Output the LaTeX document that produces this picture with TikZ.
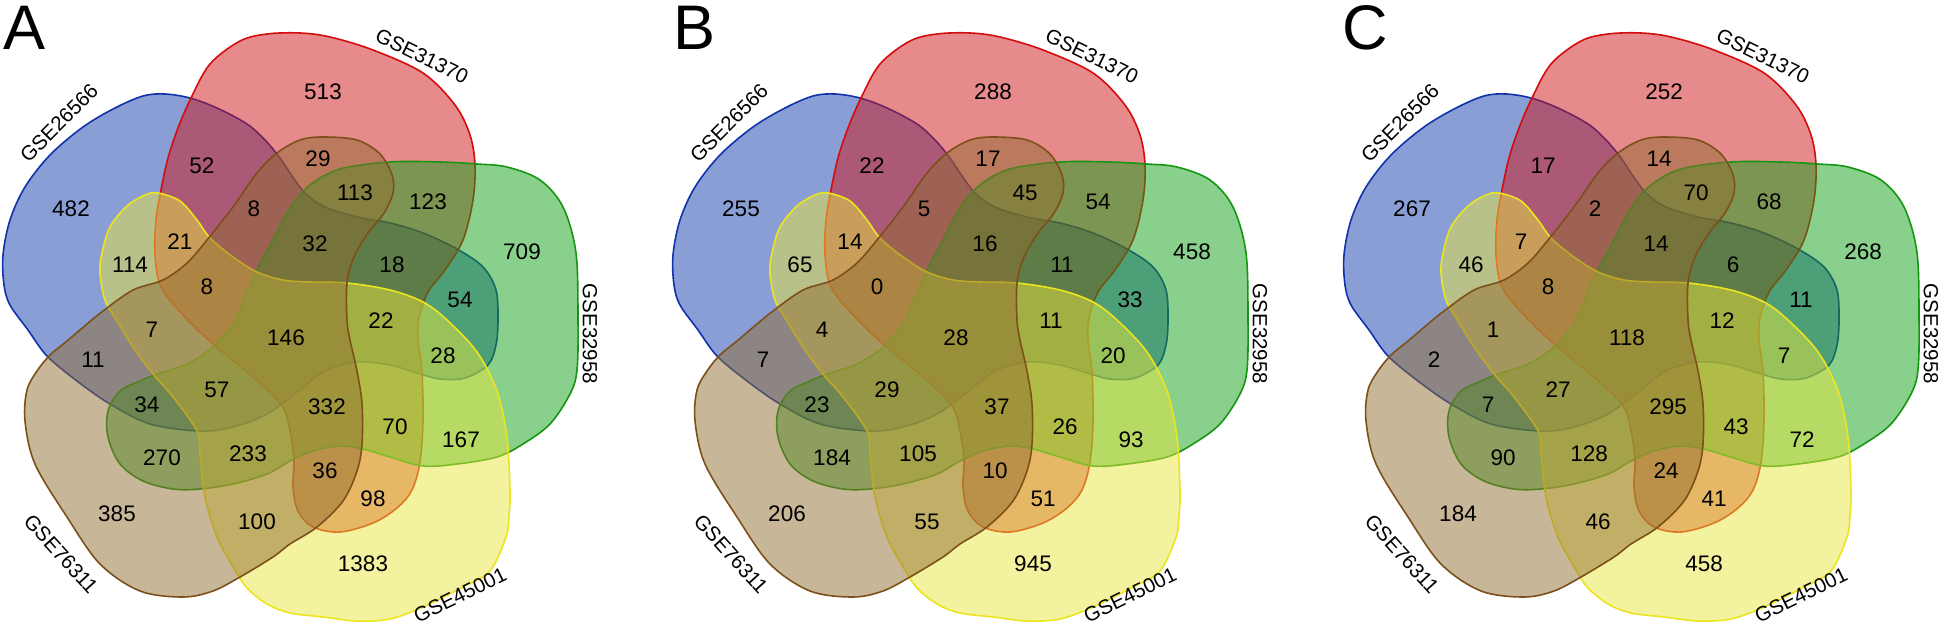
\documentclass[tikz,border=0pt]{standalone}
\usepackage{fontspec}
\setmainfont{Liberation Sans}
\usetikzlibrary{positioning}

\definecolor{vblue}{RGB}{21,61,173}
\definecolor{vred}{RGB}{205,21,25}
\definecolor{vgreen}{RGB}{19,161,25}
\definecolor{vyellow}{RGB}{231,229,63}
\definecolor{vbrown}{RGB}{145,109,49}
\definecolor{blueline}{RGB}{17,51,170}
\definecolor{redline}{RGB}{212,12,12}
\definecolor{greenline}{RGB}{22,150,18}
\definecolor{yellowline}{RGB}{236,228,30}
\definecolor{brownline}{RGB}{125,80,25}

\tikzset{
  vset/.style={line width=1.6pt,fill opacity=0.5},
  num/.style={font=\fontsize{22.5}{27}\selectfont,inner sep=0pt},
  setlabel/.style={font=\fontsize{20.5}{24}\selectfont,inner sep=0pt},
  paneltag/.style={font=\fontsize{63}{70}\selectfont,inner sep=0pt}
}

\newcommand{\blueshape}{plot[smooth cycle,tension=0.55] coordinates {(143,96) (165,94) (190,98) (217,108) (247,124) (265,140) (280,158) (292,176) (306,194) (325,207) (357,217) (390,223) (423,233) (457,249) (483,267) (496,290) (498,320) (496,345) (488,365) (465,378) (440,379) (417,373) (390,365) (357,362) (325,371) (300,390) (267,414) (233,427) (200,431) (150,424) (110,404) (77,381) (47,356) (28,330) (10,305) (4,285) (3,255) (10,220) (25,187) (50,155) (83,127) (115,108)}}
\newcommand{\redshape}{plot[smooth cycle,tension=0.55] coordinates {(191,98) (210,64) (240,41) (267,34) (300,33) (330,37) (373,50) (423,73) (455,105) (470,135) (475,165) (473,200) (463,240) (445,270) (428,292) (419,318) (418,340) (422,371) (423,421) (420,462) (412,490) (397,508) (373,523) (340,532) (313,527) (298,511) (293,487) (294,460) (290,431) (282,406) (253,377) (213,344) (183,315) (161,287) (155,255) (156,220) (161,190) (168,158) (178,128)}}
\newcommand{\greenshape}{plot[smooth cycle,tension=0.55] coordinates {(257,270) (273,240) (290,208) (310,185) (340,169) (390,162) (440,162) (477,164) (507,167) (540,180) (563,207) (576,253) (578,320) (577,370) (570,394) (550,424) (523,444) (497,457) (457,464) (423,466) (390,457) (363,449) (340,446) (313,451) (290,461) (267,474) (233,484) (200,489) (173,489) (143,481) (120,464) (108,437) (108,411) (120,391) (140,381) (157,374) (187,364) (213,347) (233,324) (243,302)}}
\newcommand{\yellowshape}{plot[smooth cycle,tension=0.55] coordinates {(158,193) (180,201) (197,220) (210,238) (233,257) (257,272) (283,280) (310,282) (347,283) (390,290) (423,302) (447,320) (477,352) (497,391) (507,437) (510,491) (509,515) (506,537) (490,571) (463,587) (423,607) (390,619) (357,621) (323,617) (290,613) (267,604) (247,588) (235,570) (217,537) (205,497) (200,454) (197,431) (173,397) (153,374) (133,347) (117,321) (105,300) (100,273) (102,253) (110,227) (127,206) (145,195)}}
\newcommand{\brownshape}{plot[smooth cycle,tension=0.55] coordinates {(300,140) (323,137) (357,140) (380,154) (392,175) (393,193) (384,213) (368,233) (354,257) (347,283) (347,320) (350,340) (357,371) (362,404) (362,444) (357,471) (343,501) (317,527) (290,544) (273,557) (240,577) (213,591) (183,597) (140,591) (100,564) (67,517) (35,464) (25,421) (27,390) (37,371) (50,355) (67,341) (87,324) (103,311) (133,290) (163,280) (187,263) (207,240) (233,207) (257,173) (277,153)}}
\newcommand{\regionpos}{71/209, 323/92, 522/252, 363/564, 117/514, 202/166, 318/159, 428/202, 460/300, 461/440, 373/499, 257/522, 162/458, 93/360, 130/265, 180/242, 254/209, 355/193, 392/265, 443/356, 395/427, 325/471, 248/454, 147/405, 152/330, 207/287, 315/244, 381/321, 327/407, 217/390, 286/338}

\begin{document}
\begin{tikzpicture}[x=1pt,y=-1pt]
  \useasboundingbox (0,0) rectangle (1943,624);
  \foreach \pan/\off/\vals in {
      A/0/{482,513,709,1383,385,52,29,123,54,167,98,100,270,11,114,21,8,113,18,28,70,36,233,34,7,8,32,22,332,57,146},
      B/670/{255,288,458,945,206,22,17,54,33,93,51,55,184,7,65,14,5,45,11,20,26,10,105,23,4,0,16,11,37,29,28},
      C/1341/{267,252,268,458,184,17,14,68,11,72,41,46,90,2,46,7,2,70,6,7,43,24,128,7,1,8,14,12,295,27,118}} {
    \begin{scope}[xshift=\off pt]
      \draw[vset,draw=blueline,fill=vblue] \blueshape;
      \draw[vset,draw=redline,fill=vred] \redshape;
      \draw[vset,draw=greenline,fill=vgreen] \greenshape;
      \draw[vset,draw=yellowline,fill=vyellow] \yellowshape;
      \draw[vset,draw=brownline,fill=vbrown] \brownshape;
      \foreach \x/\y [count=\i] in \regionpos {\coordinate (\pan\i) at (\x,\y);}
      \foreach \n [count=\i] in \vals {\node[num] (\pan-n\i) at (\pan\i) {\n};}
      \node[paneltag] (\pan-tag) at (24.5,27.5) {\pan};
      \node[setlabel,rotate=45] (\pan-gse1) at (59,123) {GSE26566};
      \node[setlabel,rotate=-26] (\pan-gse2) at (422,56) {GSE31370};
      \node[setlabel,rotate=-90] (\pan-gse3) at (590,334) {GSE32958};
      \node[setlabel,rotate=26] (\pan-gse4) at (460,595) {GSE45001};
      \node[setlabel,rotate=-48] (\pan-gse5) at (61,554) {GSE76311};
    \end{scope}
  }
\end{tikzpicture}
\end{document}
